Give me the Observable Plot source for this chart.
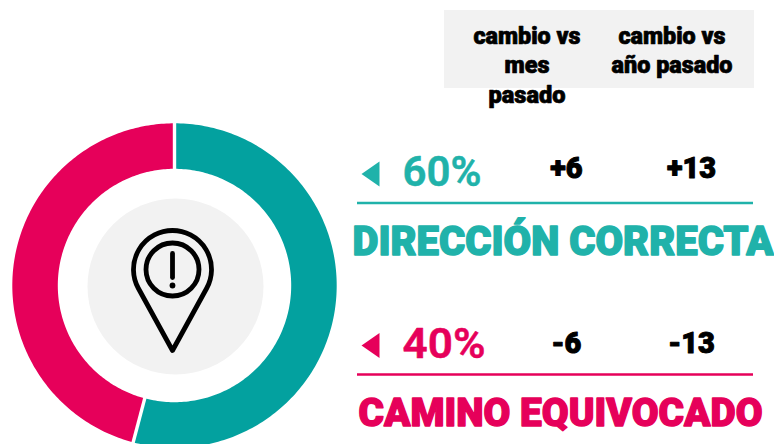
<!DOCTYPE html>
<html>
<head>
<meta charset="utf-8">
<script src="https://cdn.jsdelivr.net/npm/d3@7"></script>
<script src="https://cdn.jsdelivr.net/npm/@observablehq/plot@0.6"></script>
<style>html,body{margin:0;padding:0;background:#fff;overflow:hidden}</style>
</head>
<body>
<div id="chart"></div>
<script>
// --- data ---
const names = ["DIRECCIÓN CORRECTA", "CAMINO EQUIVOCADO"];
const percents = ["60%", "40%"];
const vsMonth = ["+6", "-6"];
const vsYear = ["+13", "-13"];
const arcShares = [54.1, 45.9];          // slice sizes as drawn in the picture
const headerMonth = ["cambio vs", "mes", "pasado"];
const headerYear = ["cambio vs", "año pasado"];

// --- styles and layout ---
const arcColors = ["#03A19F", "#E6005A"];
const labelColors = ["#20B2AA", "#E6005A"];
const font = "Roboto";
const center = {x: 174, y: 285};
const rOuter = 162.2, rInner = 116.7;
const rowPct = [185, 357], rowVal = [177, 352], rowRule = [202.5, 374], rowName = [254.5, 425.5], rowTri = [173.5, 345];
const nameX = [352, 358];
const nameSize = [40, 39];
const colMonth = 526.5, colYear = 671.5, valMonth = 566, valYear = 691;
const headerY = [43, 72.7, 102];
const fitWidths = new Map([
  ["DIRECCIÓN CORRECTA", 421], ["CAMINO EQUIVOCADO", 404],
  ["cambio vs", 107], ["mes", 45], ["pasado", 77], ["año pasado", 121],
  ["60%", 79], ["40%", 83]
]);

// --- slices from d3.pie ---
const pie = d3.pie().sort(null).value(d => d)(arcShares);
const mid = (rOuter + rInner) / 2, thick = rOuter - rInner;
const polar = (a, r) => ({x: center.x + r * Math.sin(a), y: center.y - r * Math.cos(a)});
const arcPoints = pie.map(s => {
  const steps = 180, pts = [];
  for (let i = 0; i <= steps; ++i) pts.push(polar(s.startAngle + (s.endAngle - s.startAngle) * i / steps, mid));
  return pts;
});
const gaps = pie.map(s => ({a: polar(s.startAngle, rInner - 2), b: polar(s.startAngle, rOuter + 2)}));

// --- custom symbols ---
const triSymbol = {draw(c) { c.moveTo(-9, 0); c.lineTo(9, -12.6); c.lineTo(9, 12.6); c.closePath(); }};
const pinSymbol = {draw(c) {
  const r = 39, tipY = 81, a = Math.acos(r / tipY);
  const ang = Math.PI / 2 - a;
  c.moveTo(0, tipY);
  c.lineTo(r * Math.cos(ang), r * Math.sin(ang));
  c.arc(0, 0, r, ang, Math.PI - ang, true);
  c.closePath();
}};

const txt = (data, o) => Plot.text(data, {fontFamily: font, lineAnchor: "bottom", ...o});
const pin = {x: 172, y: 269};
const idx = [0, 1];

const plot = Plot.plot({
  width: 774, height: 444,
  margin: 0,
  x: {type: "linear", domain: [0, 774], range: [0, 774], axis: null},
  y: {type: "linear", domain: [0, 444], range: [0, 444], axis: null},
  style: {background: "#fff"},
  marks: [
    Plot.rect([0], {x1: 444, x2: 754, y1: 10, y2: 88, fill: "#F2F2F2"}),
    // donut
    ...arcPoints.map((pts, i) => Plot.line(pts, {x: "x", y: "y", stroke: arcColors[i], strokeWidth: thick, strokeLinecap: "butt", curve: "linear"})),
    Plot.link(gaps, {x1: d => d.a.x, y1: d => d.a.y, x2: d => d.b.x, y2: d => d.b.y, stroke: "#fff", strokeWidth: 3.4}),
    // centre
    Plot.dot([0], {x: 175, y: 286, r: 88, fill: "#F2F2F2"}),
    Plot.dot([0], {x: pin.x, y: pin.y, symbol: pinSymbol, r: 10, stroke: "#000", fill: "none", strokeWidth: 4.8, strokeLinejoin: "round"}),
    Plot.dot([0], {x: pin.x, y: pin.y, r: 26.5, stroke: "#000", fill: "none", strokeWidth: 4.8}),
    Plot.link([0], {x1: pin.x, x2: pin.x, y1: 253, y2: 277, stroke: "#000", strokeWidth: 4.8, strokeLinecap: "round"}),
    Plot.dot([0], {x: pin.x, y: 285, r: 2.9, fill: "#000"}),
    // header
    txt(headerMonth, {x: colMonth, y: (d, i) => headerY[i], text: d => d, fontSize: 23, fontWeight: 900, fill: "#000", stroke: "#000", strokeWidth: 0.7}),
    txt(headerYear, {x: colYear, y: (d, i) => headerY[i], text: d => d, fontSize: 23, fontWeight: 900, fill: "#000", stroke: "#000", strokeWidth: 0.7}),
    // rows
    Plot.dot(idx, {x: 370, y: i => rowTri[i], symbol: triSymbol, r: 10, fill: i => labelColors[i]}),
    txt(idx, {x: 402, y: i => rowPct[i], text: i => percents[i], textAnchor: "start", fontSize: 43, fontWeight: 600, fill: i => labelColors[i], stroke: i => labelColors[i], strokeWidth: 0.5}),
    txt(idx, {x: valMonth, y: i => rowVal[i], text: i => vsMonth[i], fontSize: 29, fontWeight: 900, fill: "#000", stroke: "#000", strokeWidth: 1}),
    txt(idx, {x: valYear, y: i => rowVal[i], text: i => vsYear[i], fontSize: 29, fontWeight: 900, fill: "#000", stroke: "#000", strokeWidth: 1}),
    Plot.ruleY(idx, {y: i => rowRule[i], x1: 357, x2: 753, stroke: i => labelColors[i], strokeWidth: 2.5}),
    ...idx.map(i => txt([i], {x: nameX[i], y: rowName[i], text: () => names[i], textAnchor: "start", fontSize: nameSize[i], fontWeight: 900, fill: labelColors[i], stroke: labelColors[i], strokeWidth: 1.4}))
  ]
});
document.getElementById("chart").appendChild(plot);
// condense text runs to the widths seen in the reference
plot.querySelectorAll("text").forEach(t => {
  const w = fitWidths.get(t.textContent);
  if (w) { t.setAttribute("textLength", w); t.setAttribute("lengthAdjust", "spacingAndGlyphs"); }
});
</script>
</body>
</html>
